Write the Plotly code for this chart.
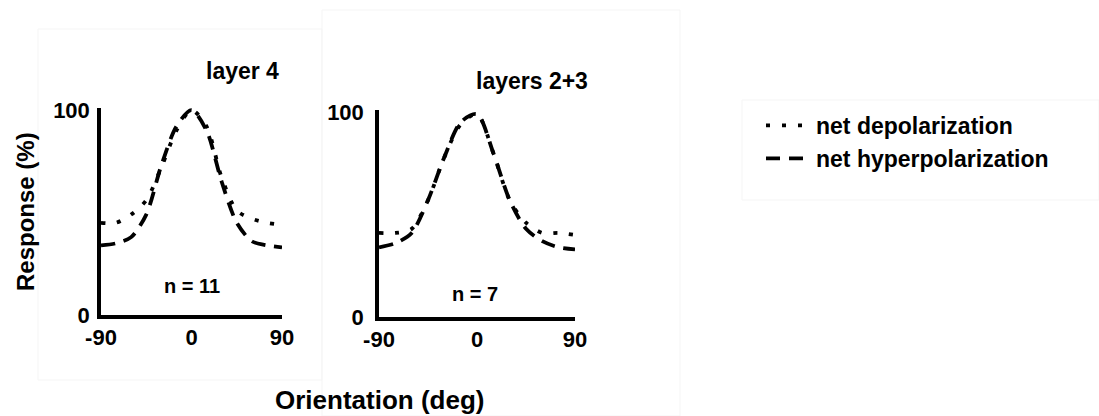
import plotly.graph_objects as go

# Orientation tuning curves (response as % of peak)
orientation_deg = [-90, -75, -60, -45, -30, -15, 0, 15, 30, 45, 60, 75, 90]

layer4_depol = [45, 45, 49, 56, 72, 90, 100, 92, 67, 51, 47, 45, 44]
layer4_hyper = [34, 35, 38, 49, 73, 92, 100, 90, 65, 45, 36, 34, 33]

layer23_depol = [41, 41, 43, 57, 78, 94, 99, 80, 57, 46, 41, 41, 40]
layer23_hyper = [34, 36, 41, 57, 78, 95, 99, 80, 57, 43, 37, 34, 33]

panel_titles = ["layer 4", "layers 2+3"]
panel_counts = ["n = 11", "n = 7"]
series_names = ["net depolarization", "net hyperpolarization"]
x_ticks = [-90, 0, 90]
x_tick_text = ["-90", "0", "90"]
y_ticks = [0, 100]
y_tick_text = ["0", "100"]

W, H = 1099, 416
FONT = "Liberation Sans, Arial, sans-serif"

def px_x(p):
    return p / W

def px_y(p):
    return 1 - p / H

def bfont(size):
    return dict(family=FONT, size=size, color="black", weight="bold")

fig = go.Figure()

DOT = "4px,12px"
DASH = "14px,9px"

panels = [
    ("x", "y", layer4_depol, layer4_hyper, True),
    ("x2", "y2", layer23_depol, layer23_hyper, False),
]
for xa, ya, depol, hyper, show in panels:
    fig.add_trace(go.Scatter(
        x=orientation_deg, y=depol, xaxis=xa, yaxis=ya, mode="lines",
        line=dict(color="black", width=3.8, dash=DOT, shape="spline", smoothing=0.8),
        name=series_names[0], showlegend=show, legendrank=1,
    ))
    fig.add_trace(go.Scatter(
        x=orientation_deg, y=hyper, xaxis=xa, yaxis=ya, mode="lines",
        line=dict(color="black", width=3.8, dash=DASH, shape="spline", smoothing=0.8),
        name=series_names[1], showlegend=show, legendrank=2,
    ))

axis_common = dict(
    showgrid=False, zeroline=False, showline=True, linecolor="black",
    linewidth=3.5, ticks="", tickfont=bfont(22), automargin=False,
)

fig.update_layout(
    template="none",
    width=W, height=H,
    margin=dict(l=0, r=0, t=0, b=0, autoexpand=False),
    paper_bgcolor="white", plot_bgcolor="white",
    xaxis=dict(domain=[px_x(101), px_x(282)], range=[-90, 90], anchor="y",
               tickvals=x_ticks, ticktext=x_tick_text, ticklabelstandoff=0, **axis_common),
    yaxis=dict(domain=[px_y(315), px_y(108)], range=[0, 101], anchor="x",
               tickvals=y_ticks, ticktext=y_tick_text, ticklabelstandoff=3, **axis_common),
    xaxis2=dict(domain=[px_x(379), px_x(575)], range=[-90, 90], anchor="y2",
                tickvals=x_ticks, ticktext=x_tick_text, ticklabelstandoff=0, **axis_common),
    yaxis2=dict(domain=[px_y(317), px_y(110)], range=[0, 101], anchor="x2",
                tickvals=y_ticks, ticktext=y_tick_text, ticklabelstandoff=7, **axis_common),
    showlegend=True,
    legend=dict(
        x=px_x(761), y=px_y(104), xanchor="left", yanchor="top",
        font=bfont(23),
        bgcolor="rgba(0,0,0,0)", borderwidth=0, tracegroupgap=0,
        itemwidth=45,
    ),
)

annots = [
    dict(text=panel_titles[0], x=px_x(242), y=px_y(71), xref="paper", yref="paper",
         font=bfont(23)),
    dict(text=panel_titles[1], x=px_x(532), y=px_y(81), xref="paper", yref="paper",
         font=bfont(23)),
    dict(text=panel_counts[0], x=0, y=14, xref="x", yref="y", font=bfont(20)),
    dict(text=panel_counts[1], x=-2, y=11, xref="x2", yref="y2", font=bfont(20)),
    dict(text="Response (%)", x=px_x(25), y=px_y(212), xref="paper", yref="paper",
         textangle=-90, font=bfont(24)),
    dict(text="Orientation (deg)", x=px_x(379), y=px_y(400), xref="paper", yref="paper",
         font=bfont(26)),
]
for a in annots:
    fig.add_annotation(showarrow=False, xanchor="center", yanchor="middle", **a)

# faint panel frames
frames = [(38, 29, 322, 380), (322, 10, 680, 416), (742, 100, 1099, 200)]
for x0, y0, x1, y1 in frames:
    fig.add_shape(type="rect", xref="paper", yref="paper",
                  x0=px_x(x0), x1=px_x(x1), y0=px_y(y0), y1=px_y(y1),
                  line=dict(color="#f5f5f5", width=1), layer="below")

fig.write_html("out.html")
